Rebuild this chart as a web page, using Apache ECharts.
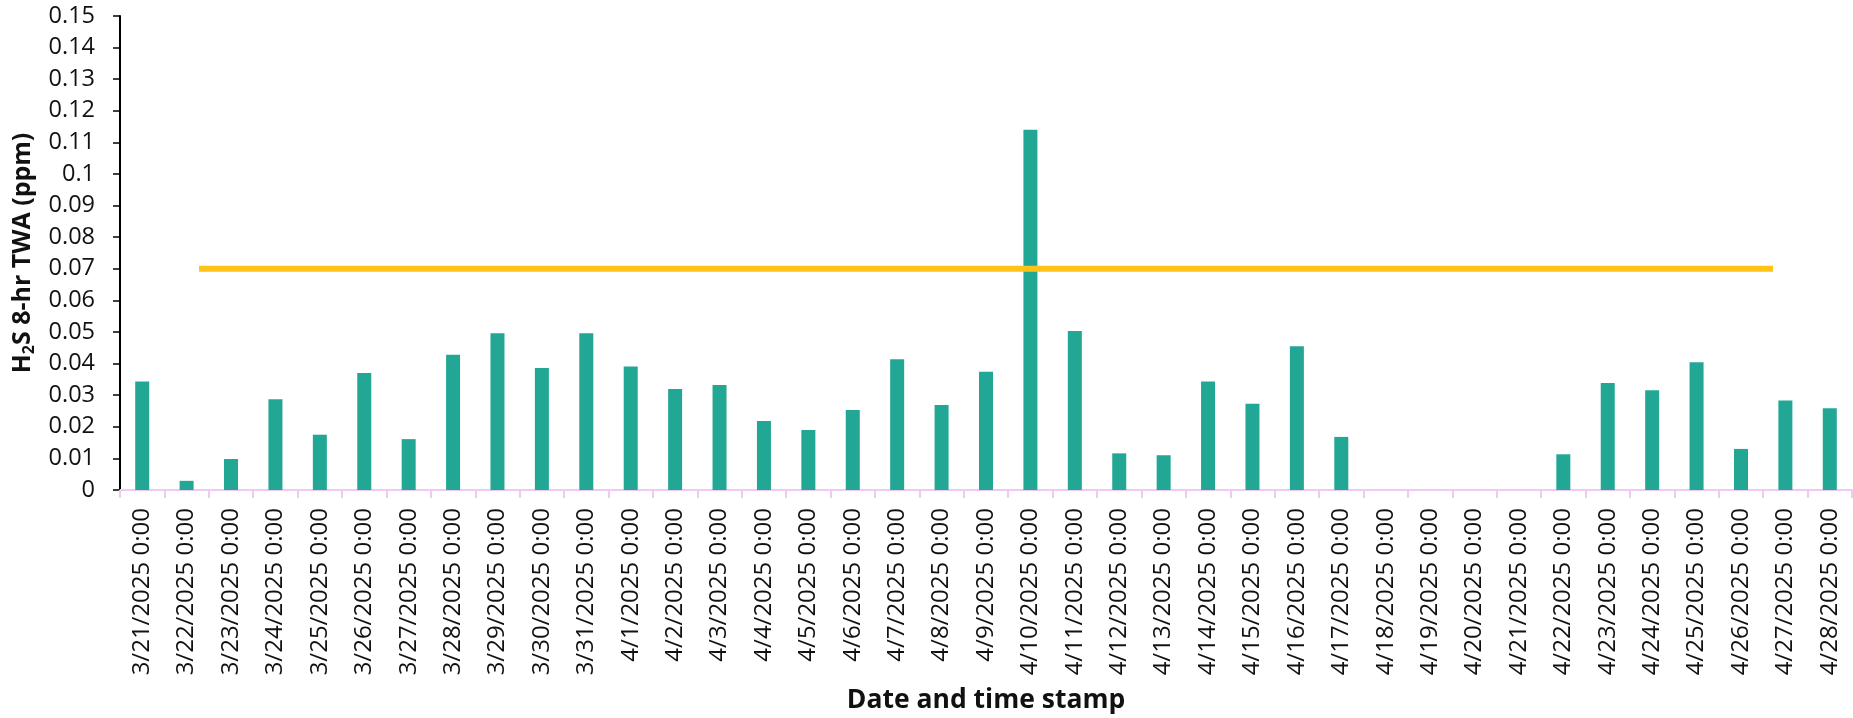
<!DOCTYPE html>
<html>
<head>
<meta charset="utf-8">
<script src="https://cdn.jsdelivr.net/npm/echarts@6/dist/echarts.min.js"></script>
<style>
  html, body { margin: 0; padding: 0; background: #fff; }
  #chart { width: 1853px; height: 718px; }
</style>
</head>
<body>
<div id="chart"></div>
<script>
// dates on the x axis
var dates = [
  '3/21/2025 0:00', '3/22/2025 0:00', '3/23/2025 0:00', '3/24/2025 0:00', '3/25/2025 0:00',
  '3/26/2025 0:00', '3/27/2025 0:00', '3/28/2025 0:00', '3/29/2025 0:00', '3/30/2025 0:00',
  '3/31/2025 0:00', '4/1/2025 0:00', '4/2/2025 0:00', '4/3/2025 0:00', '4/4/2025 0:00',
  '4/5/2025 0:00', '4/6/2025 0:00', '4/7/2025 0:00', '4/8/2025 0:00', '4/9/2025 0:00',
  '4/10/2025 0:00', '4/11/2025 0:00', '4/12/2025 0:00', '4/13/2025 0:00', '4/14/2025 0:00',
  '4/15/2025 0:00', '4/16/2025 0:00', '4/17/2025 0:00', '4/18/2025 0:00', '4/19/2025 0:00',
  '4/20/2025 0:00', '4/21/2025 0:00', '4/22/2025 0:00', '4/23/2025 0:00', '4/24/2025 0:00',
  '4/25/2025 0:00', '4/26/2025 0:00', '4/27/2025 0:00', '4/28/2025 0:00'
];

// H2S 8-hr TWA (ppm), no data 4/18 - 4/21
var twa = [
  0.0343, 0.0029, 0.0098, 0.0287, 0.0175,
  0.0370, 0.0161, 0.0428, 0.0496, 0.0386,
  0.0496, 0.0391, 0.0320, 0.0332, 0.0218,
  0.0190, 0.0253, 0.0414, 0.0269, 0.0374,
  0.1140, 0.0503, 0.0116, 0.0110, 0.0343,
  0.0273, 0.0455, 0.0168, null, null,
  null, null, 0.0113, 0.0339, 0.0316,
  0.0404, 0.0130, 0.0283, 0.0259
];

// limit line (0.07 ppm), start/end in category units
var limitValue = 0.07;
var limitSpan = [1.78, 37.22];

var chart = echarts.init(document.getElementById('chart'));

var font = 'Open Sans';

var option = {
  backgroundColor: '#fff',
  animation: false,
  grid: { left: 120, right: 1, top: 16, bottom: 228, containLabel: false, outerBoundsMode: 'none' },
  xAxis: [
    {
      type: 'category',
      data: dates,
      boundaryGap: true,
      axisLine: { lineStyle: { color: '#EFC9F2', width: 2 } },
      axisTick: { show: true, length: 8, lineStyle: { color: '#EFC9F2', width: 2 } },
      axisLabel: {
        rotate: 90, interval: 0, margin: 18,
        fontFamily: font, fontSize: 24, color: '#111'
      },
      name: 'Date and time stamp',
      nameLocation: 'middle',
      nameGap: 197,
      nameTextStyle: { fontFamily: font, fontSize: 26.5, fontWeight: 'bold', color: '#111' }
    },
    {
      type: 'value', min: 0, max: dates.length, show: false
    }
  ],
  yAxis: {
    type: 'value',
    min: 0, max: 0.15, interval: 0.01,
    splitLine: { show: false },
    axisLine: { show: true, lineStyle: { color: '#000', width: 2 } },
    axisTick: { show: true, inside: false, length: 7, lineStyle: { color: '#000', width: 1.5 } },
    axisLabel: {
      margin: 25, fontFamily: font, fontSize: 23.5, color: '#111',
      formatter: function (v) { return String(+v.toFixed(2)); }
    },
    name: '{b|H}{s|2}{b|S 8-hr TWA (ppm)}',
    nameLocation: 'middle',
    nameGap: 78,
    nameRotate: 90,
    nameTextStyle: {
      rich: {
        b: { fontFamily: font, fontSize: 25, fontWeight: 'bold', color: '#111', lineHeight: 30, verticalAlign: 'middle' },
        s: { fontFamily: font, fontSize: 16, fontWeight: 'bold', color: '#111', lineHeight: 30, verticalAlign: 'bottom', padding: [13, 0, 0, 0] }
      }
    }
  },
  series: [
    {
      type: 'bar',
      data: twa,
      barWidth: 14,
      itemStyle: { color: '#22A795' },
      z: 2
    },
    {
      type: 'line',
      xAxisIndex: 1,
      data: limitSpan.map(function (x) { return [x, limitValue]; }),
      symbol: 'none',
      lineStyle: { color: '#FFC218', width: 6 },
      z: 3
    }
  ]
};

chart.setOption(option);
</script>
</body>
</html>
